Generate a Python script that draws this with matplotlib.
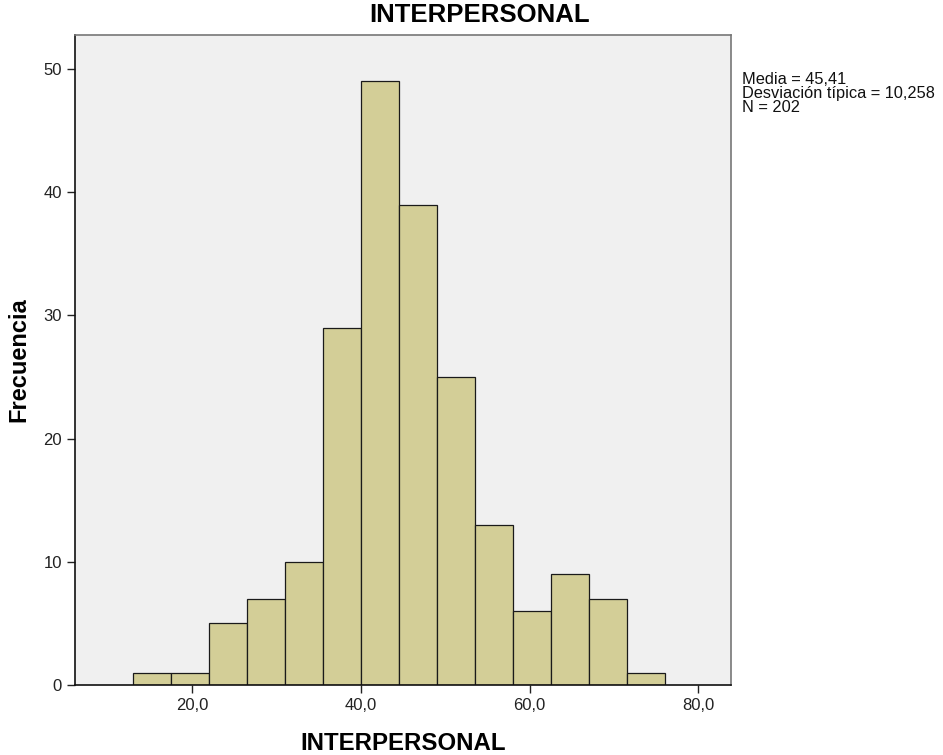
import matplotlib
matplotlib.use("Agg")
import matplotlib.pyplot as plt
import numpy as np

plt.rcParams['font.family'] = ['Liberation Sans', 'DejaVu Sans']

# histogram data
bin_edges = [13.0, 17.5, 22.0, 26.5, 31.0, 35.5, 40.0, 44.5, 49.0, 53.5, 58.0, 62.5, 67.0, 71.5, 76.0]
counts = [1, 1, 5, 7, 10, 29, 49, 39, 25, 13, 6, 9, 7, 1]
x_ticks = [20, 40, 60, 80]
x_tick_labels = ["20,0", "40,0", "60,0", "80,0"]
y_ticks = [0, 10, 20, 30, 40, 50]
stats_lines = ["Media = 45,41", "Desviación típica = 10,258", "N = 202"]

fig = plt.figure(figsize=(9.43, 7.55), dpi=100)
ax = fig.add_axes([75 / 943, 1 - 685 / 755, (731 - 75) / 943, (685 - 35) / 755])
ax.set_facecolor('#f0f0f0')

edges = np.array(bin_edges)
ax.bar(edges[:-1], counts, width=np.diff(edges), align='edge',
       color='#d3ce97', edgecolor='#1a1a1a', linewidth=0.9, zorder=2)

ax.set_xlim(6.13, 83.87)
ax.set_ylim(0, 52.76)
ax.set_xticks(x_ticks)
ax.set_xticklabels(x_tick_labels)
ax.set_yticks(y_ticks)
ax.tick_params(axis='both', labelsize=12, length=6, width=1, color='#222222', labelcolor='#222222')

for side in ['left', 'bottom']:
    ax.spines[side].set_color('#111111')
    ax.spines[side].set_linewidth(1.2)
for side in ['top', 'right']:
    ax.spines[side].set_color('#777777')
    ax.spines[side].set_linewidth(1.2)

# axis labels and title placed in figure pixels
fig.text(19 / 943, 1 - 360 / 755, "Frecuencia", fontsize=17, fontweight='bold',
         rotation=90, ha='center', va='center')
fig.text(403 / 943, 1 - 743 / 755, "INTERPERSONAL", fontsize=17.3, fontweight='bold',
         ha='center', va='center')
fig.text(480 / 943, 1 - 15 / 755, "INTERPERSONAL", fontsize=18.5, fontweight='bold',
         ha='center', va='center')

for i, line in enumerate(stats_lines):
    fig.text(742 / 943, 1 - (79 + i * 14.5) / 755, line, fontsize=11.8,
             ha='left', va='center', color='#111111')

fig.savefig("out.png", dpi=100)
